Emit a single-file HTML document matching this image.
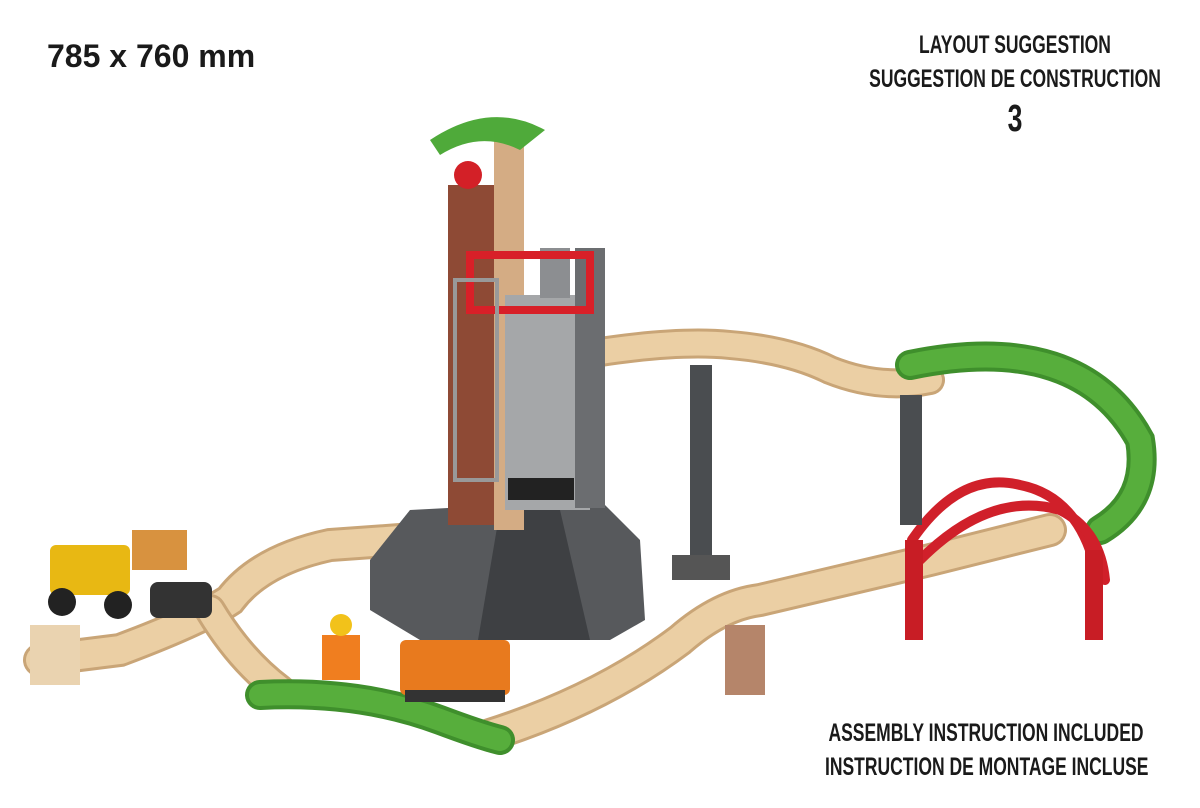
<!DOCTYPE html>
<html><head><meta charset="utf-8"><style>
html,body{margin:0;padding:0;background:#fff;}
.wrap{position:relative;width:1200px;height:808px;overflow:hidden;font-family:"Liberation Sans",sans-serif;}
.t{position:absolute;font-weight:bold;color:#1a1a1a;white-space:nowrap;}
.c{transform:scaleX(0.7);transform-origin:50% 0;}
</style></head><body><div class="wrap">
<svg width="1200" height="808" style="position:absolute;left:0;top:0">
<g fill="none" stroke-linecap="round">
<path d="M40 660 L120 650 Q200 620 230 600 Q260 560 330 545 L400 540" stroke="#c9a577" stroke-width="34"/>
<path d="M40 660 L120 650 Q200 620 230 600 Q260 560 330 545 L400 540" stroke="#ebcfa4" stroke-width="28"/>
<path d="M210 610 Q240 660 280 690" stroke="#c9a577" stroke-width="32"/>
<path d="M210 610 Q240 660 280 690" stroke="#ebcfa4" stroke-width="26"/>
<path d="M490 735 Q600 700 680 640 Q720 605 760 600 L930 560 L1050 530" stroke="#c9a577" stroke-width="34"/>
<path d="M490 735 Q600 700 680 640 Q720 605 760 600 L930 560 L1050 530" stroke="#ebcfa4" stroke-width="28"/>
<path d="M600 352 Q680 340 730 345 Q790 350 830 370 Q880 390 930 380" stroke="#c9a577" stroke-width="30"/>
<path d="M600 352 Q680 340 730 345 Q790 350 830 370 Q880 390 930 380" stroke="#ebcfa4" stroke-width="24"/>
<path d="M910 365 Q1080 330 1140 440 Q1150 500 1100 530" stroke="#3f8f2c" stroke-width="30"/>
<path d="M910 365 Q1080 330 1140 440 Q1150 500 1100 530" stroke="#57ae3c" stroke-width="22"/>
<path d="M260 695 Q360 690 440 720 Q480 735 500 740" stroke="#3f8f2c" stroke-width="30"/>
<path d="M260 695 Q360 690 440 720 Q480 735 500 740" stroke="#57ae3c" stroke-width="22"/>
<path d="M912 540 Q960 470 1020 485 Q1070 495 1090 550" stroke="#d0202a" stroke-width="10"/>
<path d="M920 560 Q990 490 1060 510 Q1100 530 1105 580" stroke="#d0202a" stroke-width="10"/>
</g>
<rect x="905" y="540" width="18" height="100" fill="#c81d25"/>
<rect x="1085" y="550" width="18" height="90" fill="#c81d25"/>
<rect x="690" y="365" width="22" height="200" fill="#4a4d50"/>
<rect x="672" y="555" width="58" height="25" fill="#555"/>
<rect x="900" y="395" width="22" height="130" fill="#4a4d50"/>
<rect x="725" y="625" width="40" height="70" fill="#b5856a"/>
<polygon points="370,560 410,510 600,500 640,540 645,620 610,640 420,640 370,610" fill="#57595c"/>
<polygon points="478,640 500,510 560,510 590,640" fill="#3e4043"/>
<rect x="448" y="185" width="48" height="340" fill="#8e4a35"/>
<rect x="494" y="130" width="30" height="400" fill="#d4ac84"/>
<path d="M430 140 Q490 100 545 130 L520 150 Q480 130 440 155Z" fill="#4faa3a"/>
<circle cx="468" cy="175" r="14" fill="#d32027"/>
<rect x="505" y="295" width="85" height="215" fill="#a5a7a9"/>
<rect x="575" y="248" width="30" height="260" fill="#6b6d70"/>
<rect x="508" y="478" width="66" height="22" fill="#222"/>
<rect x="540" y="248" width="30" height="50" fill="#8c8e91"/>
<rect x="470" y="255" width="120" height="55" fill="none" stroke="#d82028" stroke-width="8"/>
<rect x="455" y="280" width="42" height="200" fill="none" stroke="#999" stroke-width="4"/>
<rect x="50" y="545" width="80" height="50" rx="6" fill="#e8b813"/>
<rect x="132" y="530" width="55" height="40" fill="#d8923f"/>
<circle cx="62" cy="602" r="14" fill="#222"/><circle cx="118" cy="605" r="14" fill="#222"/>
<rect x="150" y="582" width="62" height="36" rx="8" fill="#333"/>
<rect x="400" y="640" width="110" height="55" rx="6" fill="#e87a1e"/>
<rect x="405" y="690" width="100" height="12" fill="#333"/>
<rect x="322" y="635" width="38" height="45" fill="#f07e1f"/>
<circle cx="341" cy="625" r="11" fill="#f2c21a"/>
<rect x="30" y="625" width="50" height="60" fill="#ead3b0"/>
</svg>
<div class="t" style="left:47px;top:38px;font-size:32px;">785 x 760 mm</div>
<div class="t c" style="left:785px;width:460px;top:28px;text-align:center;font-size:25px;line-height:34px;">LAYOUT SUGGESTION<br>SUGGESTION DE CONSTRUCTION<br><span style="font-size:38px;line-height:46px;">3</span></div>
<div class="t c" style="left:756px;width:460px;top:716px;text-align:center;font-size:25px;line-height:34px;">ASSEMBLY INSTRUCTION INCLUDED<br>INSTRUCTION DE MONTAGE INCLUSE</div>
</div></body></html>
